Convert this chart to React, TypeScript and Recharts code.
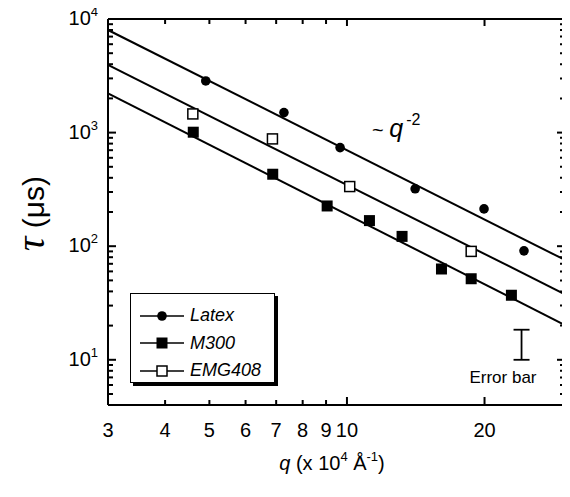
import { ComposedChart, Scatter, XAxis, YAxis, Legend, Customized } from 'recharts';

const FONT = '"Liberation Sans", Arial, Helvetica, sans-serif';

// measured points, q in 10^4 1/Å, tau in µs
const latexQ = [4.91, 7.28, 9.66, 14.1, 19.95, 24.4];
const latexTau = [2850, 1500, 738, 320, 213, 91];
const m300Q = [4.61, 6.88, 9.05, 11.2, 13.2, 16.1, 18.7, 22.9];
const m300Tau = [1008, 430, 226, 168, 122, 63, 51.7, 37];
const emgQ = [4.6, 6.87, 10.14, 18.7];
const emgTau = [1460, 880, 335, 90];

// ~q^-2 guide lines, endpoints at q = 3 and q = 30
const fitQ = [3, 30];
const fitLatex = [8000, 75.6];
const fitEmg = [3936, 37.7];
const fitM300 = [2218, 20.2];

// typical error bar
const errQ = [24.1, 24.1];
const errTau = [10, 18.4];

const xTicks = [3, 4, 5, 6, 7, 8, 9, 10, 20];
const xMajor = [10, 20];
const yDecades = [10, 100, 1000, 10000];
const yMinor = [4, 5, 6, 7, 8, 9, 20, 30, 40, 50, 60, 70, 80, 90, 200, 300, 400, 500, 600, 700, 800, 900, 2000, 3000, 4000, 5000, 6000, 7000, 8000, 9000];
const yTicks = [...yMinor, ...yDecades].sort((a, b) => a - b);

const seriesNames = ['Latex', 'M300', 'EMG408'];

const zip = (q: number[], t: number[]) => q.map((v, i) => ({ q: v, tau: t[i] }));

const Circle = (p: any) => <circle cx={p.cx} cy={p.cy} r={4.8} fill="#000" />;
const FilledSq = (p: any) => <rect x={p.cx - 5.5} y={p.cy - 5.5} width={11} height={11} fill="#000" />;
const OpenSq = (p: any) => (
  <rect x={p.cx - 5} y={p.cy - 5} width={10} height={10} fill="#fff" stroke="#000" strokeWidth={1.5} />
);
const NoDot = () => <g />;
const Cap = (p: any) => <line x1={p.cx - 8} x2={p.cx + 8} y1={p.cy} y2={p.cy} stroke="#000" strokeWidth={1.8} />;

const BottomTick = ({ x, y, payload }: any) => {
  const v = payload.value;
  const len = xMajor.includes(v) ? 8 : 5;
  return (
    <g>
      {v !== 3 && <line x1={x} x2={x} y1={y} y2={y - len} stroke="#000" strokeWidth={2} />}
      <text x={x} y={y + 32} textAnchor="middle" fontSize={20} fontFamily={FONT} fill="#000">
        {v}
      </text>
    </g>
  );
};

const TopTick = ({ x, y, payload }: any) => {
  const v = payload.value;
  if (v === 3) return <g />;
  const len = xMajor.includes(v) ? 7 : 5;
  return <line x1={x} x2={x} y1={y} y2={y + len} stroke="#000" strokeWidth={2} />;
};

const LeftTick = ({ x, y, payload }: any) => {
  const v = payload.value;
  const major = yDecades.includes(v);
  return (
    <g>
      <line x1={x} x2={x + (major ? 8 : 5)} y1={y} y2={y} stroke="#000" strokeWidth={2} />
      {major && (
        <text x={x - 10} y={y + 6} textAnchor="end" fontSize={20} fontFamily={FONT} fill="#000">
          <tspan>10</tspan>
          <tspan dy={-9} fontSize={13}>
            {Math.round(Math.log10(v))}
          </tspan>
        </text>
      )}
    </g>
  );
};

const RightTick = ({ x, y, payload }: any) => {
  const major = yDecades.includes(payload.value);
  return <line x1={x} x2={x - (major ? 8 : 5)} y1={y} y2={y} stroke="#000" strokeWidth={2} />;
};

const LegendIcon = ({ name }: { name: string }) => (
  <svg width={46} height={14} style={{ display: 'block' }}>
    <line x1={1} x2={45} y1={7} y2={7} stroke="#000" strokeWidth={1.5} />
    {name === 'Latex' && <circle cx={23} cy={7} r={4.8} fill="#000" />}
    {name === 'M300' && <rect x={17.5} y={1.5} width={11} height={11} fill="#000" />}
    {name === 'EMG408' && <rect x={18} y={2} width={10} height={10} fill="#fff" stroke="#000" strokeWidth={1.5} />}
  </svg>
);

const LegendBox = () => (
  <div
    style={{
      border: '1.5px solid #000',
      boxShadow: '3px 3px 0 #000',
      background: '#fff',
      width: 145,
      height: 90,
      boxSizing: 'border-box',
      padding: '8px 0 0 8px',
      fontFamily: FONT,
    }}
  >
    {seriesNames.map((n) => (
      <div key={n} style={{ display: 'flex', alignItems: 'center', height: 27.5 }}>
        <LegendIcon name={n} />
        <span style={{ fontStyle: 'italic', fontSize: 18, marginLeft: 5 }}>{n}</span>
      </div>
    ))}
  </div>
);

const Annotations = () => (
  <g fontFamily={FONT} fill="#000">
    <text x={364} y={137} fontSize={20}>
      <tspan>~ </tspan>
      <tspan fontStyle="italic" fontSize={25}>q</tspan>
      <tspan dx={3} dy={-12} fontSize={16}>-2</tspan>
    </text>
    <text x={495} y={383} fontSize={17} textAnchor="middle">
      Error bar
    </text>
    <text x={324} y={470} fontSize={20} textAnchor="middle">
      <tspan fontStyle="italic">q</tspan>
      <tspan> (x 10</tspan>
      <tspan dy={-9} fontSize={13}>4</tspan>
      <tspan dy={9}> Å</tspan>
      <tspan dy={-9} fontSize={13}>-1</tspan>
      <tspan dy={9}>)</tspan>
    </text>
    <g transform="translate(36, 251) rotate(-90)">
      <text x={0} y={0} fontSize={30} textAnchor="start">
        <tspan fontFamily='"Liberation Serif", "Times New Roman", serif' fontStyle="italic" fontSize={40}>
          τ
        </tspan>
        <tspan> (μs)</tspan>
      </text>
    </g>
  </g>
);

export default function App() {
  const axisLine = { stroke: '#000', strokeWidth: 2 };
  const line = { stroke: '#000', strokeWidth: 2 };
  return (
    <div style={{ marginTop: -8 }}>
      <ComposedChart width={562} height={497} margin={{ top: 18, right: 0, bottom: 0, left: 0 }}>
        <XAxis
          xAxisId="b"
          dataKey="q"
          type="number"
          scale="log"
          domain={[3, 30]}
          allowDataOverflow
          ticks={xTicks}
          interval={0}
          tickSize={0}
          tickMargin={0}
          tickLine={false}
          axisLine={axisLine}
          tick={<BottomTick />}
          height={92}
        />
        <XAxis
          xAxisId="t"
          orientation="top"
          dataKey="q"
          type="number"
          scale="log"
          domain={[3, 30]}
          allowDataOverflow
          ticks={xTicks}
          interval={0}
          tickSize={0}
          tickMargin={0}
          tickLine={false}
          axisLine={axisLine}
          tick={<TopTick />}
          height={1}
        />
        <YAxis
          yAxisId="l"
          dataKey="tau"
          type="number"
          scale="log"
          domain={[4, 10000]}
          allowDataOverflow
          ticks={yTicks}
          interval={0}
          tickSize={0}
          tickMargin={0}
          tickLine={false}
          axisLine={axisLine}
          tick={<LeftTick />}
          width={100}
        />
        <YAxis
          yAxisId="r"
          orientation="right"
          dataKey="tau"
          type="number"
          scale="log"
          domain={[4, 10000]}
          allowDataOverflow
          ticks={yTicks}
          interval={0}
          tickSize={0}
          tickMargin={0}
          tickLine={false}
          axisLine={axisLine}
          tick={<RightTick />}
          width={5}
        />
        <Scatter xAxisId="b" yAxisId="l" data={zip(fitQ, fitLatex)} line={line} shape={<NoDot />} legendType="none" isAnimationActive={false} />
        <Scatter xAxisId="b" yAxisId="l" data={zip(fitQ, fitEmg)} line={line} shape={<NoDot />} legendType="none" isAnimationActive={false} />
        <Scatter xAxisId="b" yAxisId="l" data={zip(fitQ, fitM300)} line={line} shape={<NoDot />} legendType="none" isAnimationActive={false} />
        <Scatter xAxisId="b" yAxisId="l" data={zip(errQ, errTau)} line={{ stroke: '#000', strokeWidth: 1.8 }} shape={<Cap />} legendType="none" isAnimationActive={false} />
        <Scatter name="Latex" xAxisId="b" yAxisId="l" data={zip(latexQ, latexTau)} shape={<Circle />} isAnimationActive={false} />
        <Scatter name="M300" xAxisId="b" yAxisId="l" data={zip(m300Q, m300Tau)} shape={<FilledSq />} isAnimationActive={false} />
        <Scatter name="EMG408" xAxisId="b" yAxisId="l" data={zip(emgQ, emgTau)} shape={<OpenSq />} isAnimationActive={false} />
        <Legend
          layout="vertical"
          align="center"
          verticalAlign="middle"
          content={<LegendBox />}
          wrapperStyle={{ position: 'absolute', left: 122, top: 293, width: 148, height: 93 }}
        />
        <Customized component={Annotations} />
      </ComposedChart>
    </div>
  );
}
